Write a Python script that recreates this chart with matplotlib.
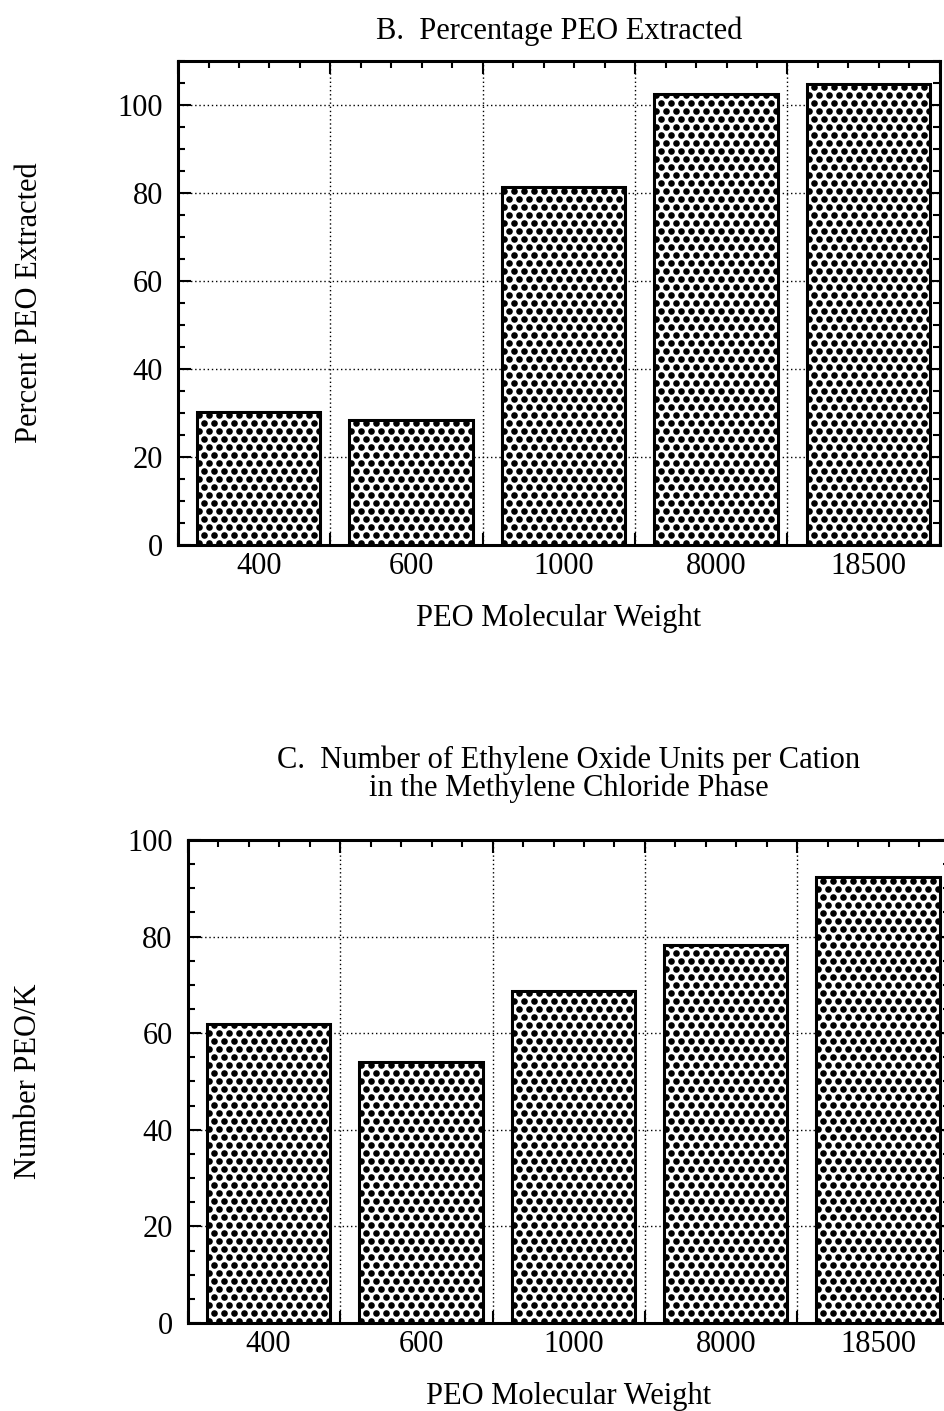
import numpy as np
import matplotlib
matplotlib.use("Agg")
import matplotlib.pyplot as plt
from matplotlib.ticker import MultipleLocator, NullFormatter

plt.rcParams['font.family'] = ['Liberation Serif', 'DejaVu Serif']

# PEO molecular weights and the two measured quantities
mol_weights = ['400', '600', '1000', '8000', '18500']
pct_extracted = [30.2, 28.5, 81.3, 102.5, 104.8]
eo_per_cation = [62, 54, 68.7, 78.2, 92.3]

DPI = 100
fig = plt.figure(figsize=(9.44, 14.11), dpi=DPI)
ax_b = fig.add_axes([0.1886, 0.6138, 0.807, 0.343])
ax_c = fig.add_axes([0.199, 0.0624, 0.807, 0.3423])

centers = np.arange(len(mol_weights)) + 0.53
FS = 22


def dot_fill(ax, bars, dx=10.0, dy=8.0, diam=6.6):
    """Stipple each bar with a staggered grid of black dots (pixel spacing)."""
    to_px = ax.transData
    to_data = ax.transData.inverted()
    size = (diam * 72.0 / DPI) ** 2
    for bar in bars:
        x0, y0 = bar.get_xy()
        (px0, py0), (px1, py1) = to_px.transform(
            [(x0, y0), (x0 + bar.get_width(), y0 + bar.get_height())])
        pts = []
        for i, yy in enumerate(np.arange(py0 + 2, py1 + dy, dy)):
            shift = dx / 2 if i % 2 else 0.0
            for xx in np.arange(px0 + 2 + shift, px1 + dx, dx):
                pts.append((xx, yy))
        pts = to_data.transform(np.array(pts))
        dots = ax.scatter(pts[:, 0], pts[:, 1], s=size, c='black',
                          linewidths=0, marker='o', zorder=2.1)
        dots.set_clip_path(bar)


def style_panel(ax, values, ymax, title, ylabel, title_pad, ylab_x):
    ax.set_xlim(0, 5)
    ax.set_ylim(0, ymax)
    bars = ax.bar(centers, values, width=0.81, facecolor='white',
                  edgecolor='black', linewidth=2.2, zorder=2)
    ax.set_xlim(0, 5)
    ax.set_ylim(0, ymax)
    dot_fill(ax, bars)

    ax.xaxis.set_major_locator(MultipleLocator(1))
    ax.xaxis.set_minor_locator(MultipleLocator(0.2))
    ax.xaxis.set_major_formatter(NullFormatter())
    ax.yaxis.set_major_locator(MultipleLocator(20))
    ax.yaxis.set_minor_locator(MultipleLocator(5))
    ax.tick_params(which='both', direction='in', top=True, right=True,
                   width=1.5, labelsize=FS, pad=11)
    ax.tick_params(which='major', length=9)
    ax.tick_params(which='minor', length=5)
    ax.grid(True, which='major', linestyle=(0, (1, 2)), color='black',
            linewidth=1)
    ax.set_axisbelow(True)
    for sp in ax.spines.values():
        sp.set_linewidth(2.2)

    # category labels sit under the bars, between the major ticks
    sec = ax.secondary_xaxis('bottom')
    sec.set_xticks(centers, mol_weights)
    sec.tick_params(length=0, labelsize=FS, pad=5)
    sec.spines['bottom'].set_visible(False)

    ax.set_title(title, fontsize=FS, pad=title_pad, linespacing=0.92)
    ax.set_ylabel(ylabel, fontsize=FS)
    ax.yaxis.set_label_coords(ylab_x, 0.5)
    ax.set_xlabel('PEO Molecular Weight', fontsize=FS)
    ax.xaxis.set_label_coords(0.5, -0.123)


style_panel(ax_b, pct_extracted, 110, 'B.  Percentage PEO Extracted',
            'Percent PEO Extracted', 16, -0.176)
style_panel(ax_c, eo_per_cation, 100,
            'C.  Number of Ethylene Oxide Units per Cation\n'
            'in the Methylene Chloride Phase',
            'Number PEO/K', 32, -0.19)

fig.savefig('out.png', dpi=DPI)
